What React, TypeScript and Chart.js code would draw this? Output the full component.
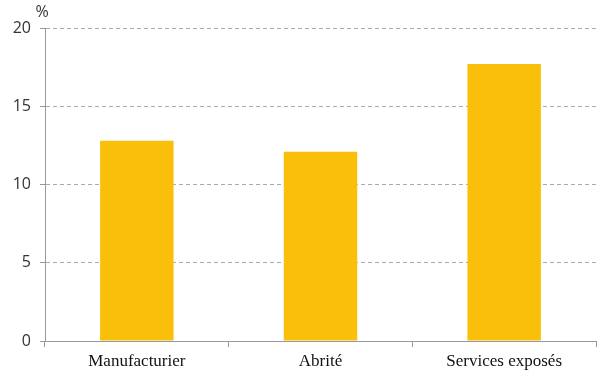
import React, { useEffect, useRef } from "react";
import { Chart, registerables } from "chart.js";

Chart.register(...registerables);

const categories = ["Manufacturier", "Abrité", "Services exposés"];
const values = [12.8, 12.1, 17.7];
const yTicks = [0, 5, 10, 15, 20];
const unitLabel = "%";

export default function App() {
  const ref = useRef<HTMLCanvasElement | null>(null);
  useEffect(() => {
    document.body.style.margin = "0";
    const unitPlugin = {
      id: "unitLabel",
      afterDraw(chart: any) {
        const { ctx } = chart;
        const y = chart.scales.y;
        ctx.save();
        ctx.font = "16px 'Open Sans', sans-serif";
        ctx.fillStyle = "#333";
        ctx.textAlign = "center";
        ctx.textBaseline = "middle";
        ctx.fillText(unitLabel, y.right - 3, 12);
        ctx.restore();
      },
    };
    const chart = new Chart(ref.current!, {
      type: "bar",
      data: {
        labels: categories,
        datasets: [
          {
            data: values,
            backgroundColor: "#FABF0B",
            borderWidth: 0,
            categoryPercentage: 1,
            barPercentage: 0.4,
          },
        ],
      },
      options: {
        responsive: false,
        animation: false,
        layout: { padding: { top: 28, right: 10, left: 0, bottom: 0 } },
        plugins: { legend: { display: false }, tooltip: { enabled: false } },
        scales: {
          x: {
            offset: true,
            grid: {
              display: true,
              offset: true,
              drawOnChartArea: false,
              drawTicks: true,
              tickLength: 6,
              color: "#999",
            },
            border: { display: true, color: "#999", width: 1 },
            ticks: {
              color: "#111",
              font: { family: "'Liberation Serif', serif", size: 17 },
              padding: 4,
              maxRotation: 0,
            },
            afterFit(scale: any) {
              scale.height = 37;
            },
          },
          y: {
            min: 0,
            max: 20,
            afterBuildTicks(scale: any) {
              scale.ticks = yTicks.map((v) => ({ value: v }));
            },
            grid: {
              color: (c: any) => (c.tick && c.tick.value === 0 ? "rgba(0,0,0,0)" : "#aaa"),
              tickColor: "#999",
              tickLength: 5,
              drawTicks: true,
            },
            border: { display: true, color: "#999", width: 1, dash: [4, 3] as any },
            ticks: {
              color: "#333",
              font: { family: "'Open Sans', sans-serif", size: 16 },
              padding: 9,
            },
            afterFit(scale: any) {
              scale.width = 45;
            },
          },
        },
      },
      plugins: [unitPlugin],
    });
    return () => chart.destroy();
  }, []);
  return <canvas ref={ref} width={606} height={378} style={{ display: "block" }} />;
}
